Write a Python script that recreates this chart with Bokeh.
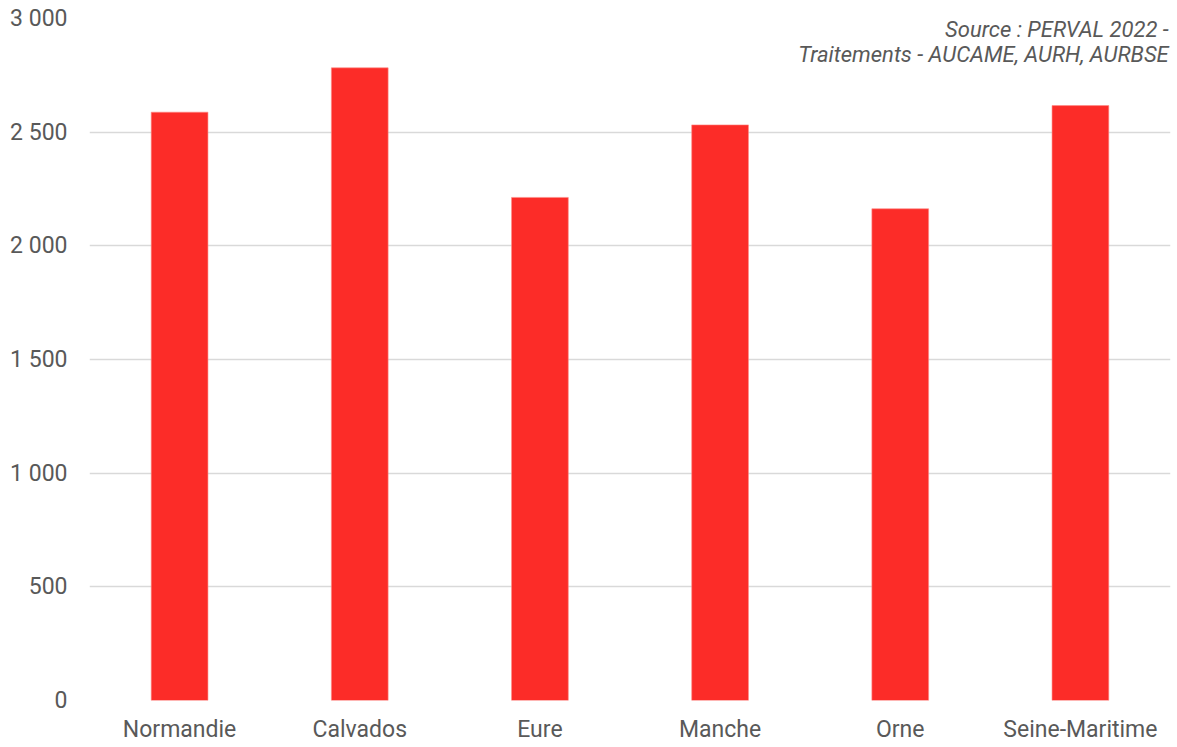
from bokeh.plotting import figure
from bokeh.models import Range1d, CustomJSTickFormatter, Label, FixedTicker
from bokeh.embed import file_html
from bokeh.resources import INLINE

categories = ["Normandie", "Calvados", "Eure", "Manche", "Orne", "Seine-Maritime"]
values = [2588, 2783, 2213, 2532, 2163, 2617]
y_ticks = [0, 500, 1000, 1500, 2000, 2500, 3000]
source_lines = ["Source : PERVAL 2022 -", "Traitements - AUCAME, AURH, AURBSE"]

FONT = "Roboto"
TXT = "#595959"

p = figure(x_range=categories, y_range=Range1d(0, 3000),
           width=1177, height=747, frame_width=1081, frame_height=682,
           min_border_left=89, min_border_right=7, min_border_top=18, min_border_bottom=47,
           output_backend="svg", toolbar_location=None, background_fill_color="white",
           border_fill_color="white")
p.outline_line_color = None

p.vbar(x=categories, top=values, width=0.315, fill_color="#FC2C28", line_color="#FF8A86",
       line_width=1, line_alpha=0.6)

p.yaxis.ticker = FixedTicker(ticks=y_ticks)
p.yaxis.formatter = CustomJSTickFormatter(code="return tick.toString().replace(/\\B(?=(\\d{3})+(?!\\d))/g, ' ');")
for ax in (p.xaxis, p.yaxis):
    ax.axis_line_color = None
    ax.major_tick_line_color = None
    ax.minor_tick_line_color = None
    ax.major_tick_out = 0
    ax.major_tick_in = 0
    ax.major_label_text_font = FONT
    ax.major_label_text_font_size = "23px"
    ax.major_label_text_color = TXT
p.yaxis.major_label_standoff = 22
p.xaxis.major_label_standoff = 15

p.xgrid.grid_line_color = None
p.ygrid.grid_line_color = "#d9d9d9"
p.ygrid.grid_line_width = 1.5

for i, (yv, t) in enumerate(zip([2952, 2842], source_lines)):
    p.add_layout(Label(x=5.99, y=yv, text=t, text_align="right", text_baseline="middle",
                       text_font=FONT, text_font_style="italic", text_font_size="22px",
                       text_color=TXT))

open("out.html", "w").write(file_html(p, INLINE))
